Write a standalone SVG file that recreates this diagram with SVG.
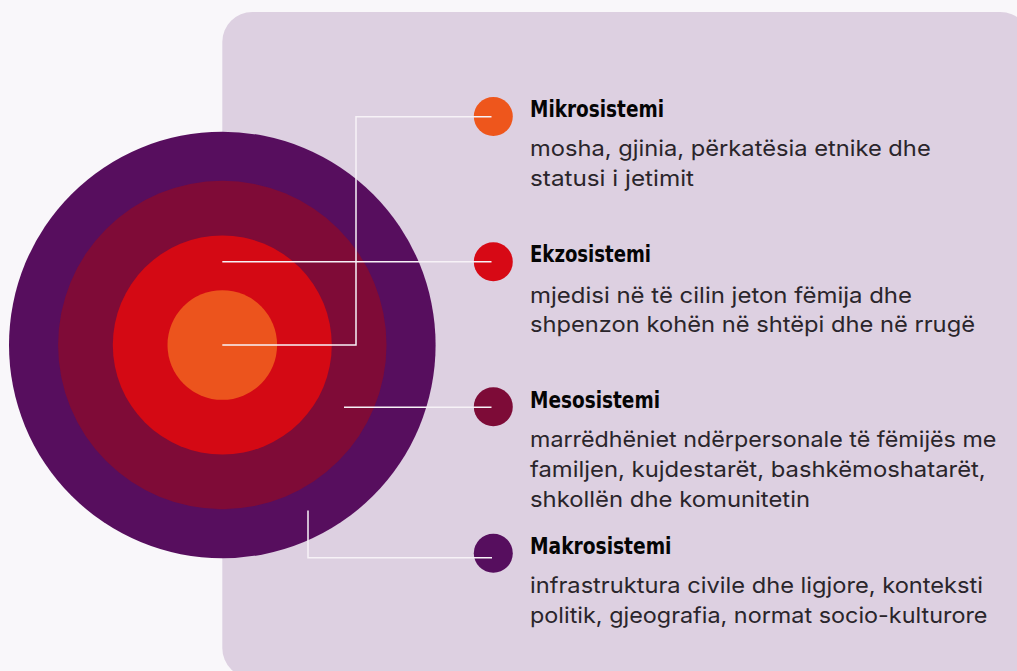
<svg xmlns="http://www.w3.org/2000/svg" width="1017" height="671" viewBox="0 0 1017 671">
  <style>
    .title { font-family: "Liberation Sans Narrow", "DejaVu Sans Condensed", "Liberation Sans", sans-serif; font-weight: bold; font-size: 23.5px; fill: #050505; }
    .body { font-family: Inter, "Liberation Sans", sans-serif; font-size: 22px; fill: #2a252b; }
    .conn { fill: none; stroke: #f7f2f7; stroke-width: 1.5; }
  </style>
  <rect x="0" y="0" width="1017" height="671" fill="#f9f7fa"/>
  <rect id="panel" x="222.3" y="12" width="808" height="666" rx="30" ry="30" fill="#ddd0e1"/>

  <g id="rings">
    <circle id="ring-makro" cx="222.3" cy="345" r="213.3" fill="#570e5e"/>
    <circle id="ring-meso" cx="222.3" cy="345" r="164.2" fill="#7f0b37"/>
    <circle id="ring-ekzo" cx="222.3" cy="345" r="109.5" fill="#d40914"/>
    <circle id="ring-mikro" cx="222.3" cy="345" r="54.8" fill="#ec541d"/>
  </g>

  <g id="node-mikro">
    <circle cx="493.3" cy="116.5" r="19.5" fill="#ee561c"/>
    <text class="title" x="530" y="116.7" textLength="134" lengthAdjust="spacingAndGlyphs">Mikrosistemi</text>
    <text class="body" x="530" y="156" textLength="400.7" lengthAdjust="spacingAndGlyphs">mosha, gjinia, përkatësia etnike dhe</text>
    <text class="body" x="530" y="186" textLength="164" lengthAdjust="spacingAndGlyphs">statusi i jetimit</text>
  </g>

  <g id="node-ekzo">
    <circle cx="493.3" cy="261.7" r="19.5" fill="#d70915"/>
    <text class="title" x="530" y="262.3" textLength="121" lengthAdjust="spacingAndGlyphs">Ekzosistemi</text>
    <text class="body" x="530" y="302.7" textLength="382" lengthAdjust="spacingAndGlyphs">mjedisi në të cilin jeton fëmija dhe</text>
    <text class="body" x="530" y="331.7" textLength="445" lengthAdjust="spacingAndGlyphs">shpenzon kohën në shtëpi dhe në rrugë</text>
  </g>

  <g id="node-meso">
    <circle cx="493.3" cy="406.7" r="19.5" fill="#7d0b37"/>
    <text class="title" x="530" y="407.7" textLength="130" lengthAdjust="spacingAndGlyphs">Mesosistemi</text>
    <text class="body" x="530" y="446.7" textLength="466.4" lengthAdjust="spacingAndGlyphs">marrëdhëniet ndërpersonale të fëmijës me</text>
    <text class="body" x="530" y="476.7" textLength="455.7" lengthAdjust="spacingAndGlyphs">familjen, kujdestarët, bashkëmoshatarët,</text>
    <text class="body" x="530" y="506.7" textLength="280" lengthAdjust="spacingAndGlyphs">shkollën dhe komunitetin</text>
  </g>

  <g id="node-makro">
    <circle cx="493.3" cy="553.3" r="19.5" fill="#560e5e"/>
    <text class="title" x="530" y="554" textLength="141.5" lengthAdjust="spacingAndGlyphs">Makrosistemi</text>
    <text class="body" x="530" y="592.7" textLength="453" lengthAdjust="spacingAndGlyphs">infrastruktura civile dhe ligjore, konteksti</text>
    <text class="body" x="530" y="622.7" textLength="457.5" lengthAdjust="spacingAndGlyphs">politik, gjeografia, normat socio-kulturore</text>
  </g>

  <g id="connectors">
    <polyline class="conn" points="222.3,345 356,345 356,116.8 491.5,116.8"/>
    <polyline class="conn" points="222.3,261.7 491.5,261.7"/>
    <polyline class="conn" points="344,407.3 491.5,407.3"/>
    <polyline class="conn" points="308,510.5 308,557.7 492,557.7"/>
  </g>
</svg>
